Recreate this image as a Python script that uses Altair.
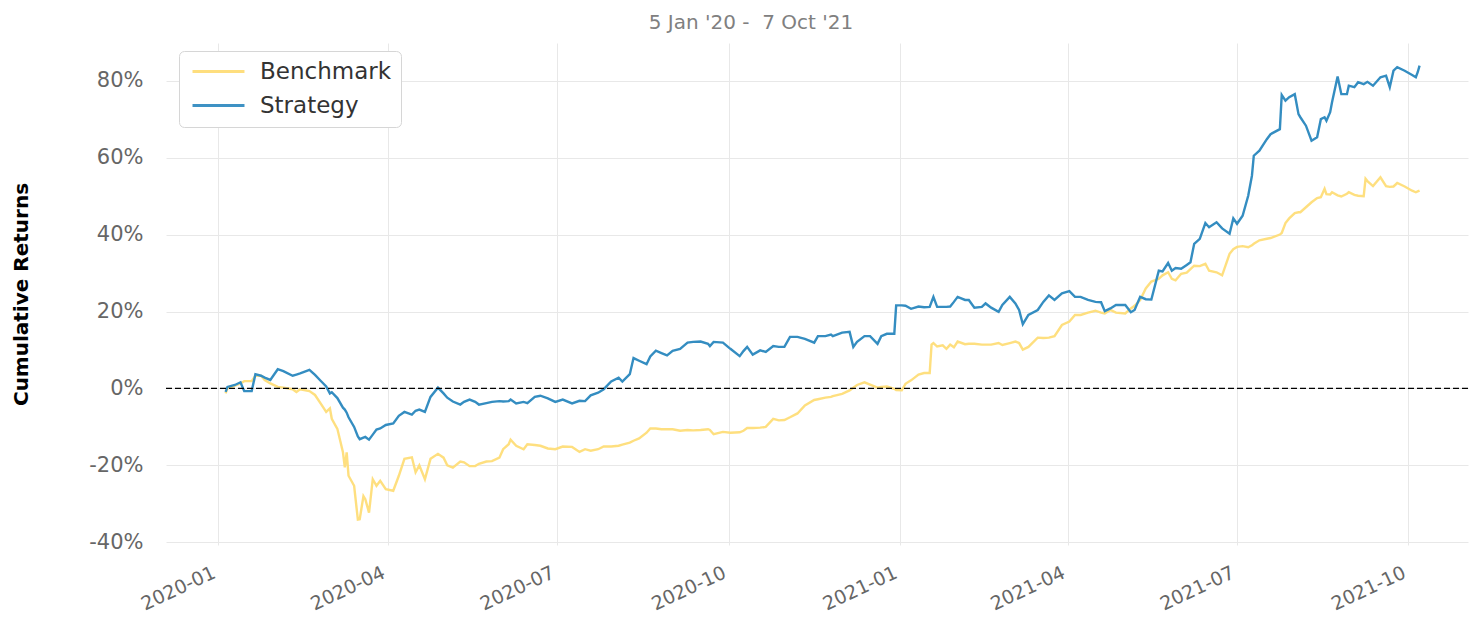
import altair as alt
import pandas as pd

# ---------------- data (cumulative return, %) ----------------
dates = [
    "2020-01-05", "2020-01-06", "2020-01-10", "2020-01-13", "2020-01-15", "2020-01-19",
    "2020-01-21", "2020-01-24", "2020-01-26", "2020-01-29", "2020-02-02", "2020-02-05",
    "2020-02-10", "2020-02-12", "2020-02-14", "2020-02-19", "2020-02-22", "2020-02-25",
    "2020-02-28", "2020-03-01", "2020-03-02", "2020-03-05", "2020-03-08", "2020-03-09",
    "2020-03-10", "2020-03-11", "2020-03-14", "2020-03-16", "2020-03-17", "2020-03-19",
    "2020-03-20", "2020-03-22", "2020-03-24", "2020-03-26", "2020-03-28", "2020-03-31",
    "2020-04-04", "2020-04-07", "2020-04-10", "2020-04-14", "2020-04-16", "2020-04-18",
    "2020-04-21", "2020-04-24", "2020-04-28",
    "2020-05-01", "2020-05-03", "2020-05-06", "2020-05-10", "2020-05-12", "2020-05-15",
    "2020-05-18", "2020-05-20", "2020-05-24", "2020-05-27", "2020-05-31", "2020-06-02",
    "2020-06-05", "2020-06-06", "2020-06-09", "2020-06-13", "2020-06-15", "2020-06-19",
    "2020-06-22", "2020-06-26", "2020-06-30", "2020-07-04", "2020-07-09", "2020-07-13",
    "2020-07-16", "2020-07-19", "2020-07-23", "2020-07-26", "2020-07-30", "2020-08-03",
    "2020-08-05", "2020-08-09", "2020-08-11", "2020-08-14", "2020-08-18", "2020-08-20",
    "2020-08-23", "2020-08-26", "2020-08-29", "2020-09-01", "2020-09-05",
    "2020-09-09", "2020-09-12", "2020-09-16", "2020-09-20", "2020-09-21", "2020-09-23",
    "2020-09-28", "2020-10-02", "2020-10-07", "2020-10-09", "2020-10-11", "2020-10-14",
    "2020-10-18", "2020-10-21", "2020-10-25", "2020-10-28", "2020-10-31", "2020-11-03",
    "2020-11-07", "2020-11-11", "2020-11-16", "2020-11-18", "2020-11-22", "2020-11-25",
    "2020-11-26", "2020-12-01", "2020-12-05", "2020-12-07", "2020-12-09", "2020-12-13",
    "2020-12-16", "2020-12-20", "2020-12-22", "2020-12-25", "2020-12-29", "2020-12-30",
    "2021-01-02",
    "2021-01-04", "2021-01-07", "2021-01-11", "2021-01-14", "2021-01-17", "2021-01-18",
    "2021-01-19", "2021-01-21", "2021-01-24", "2021-01-26", "2021-01-28", "2021-01-30",
    "2021-02-01", "2021-02-05", "2021-02-07", "2021-02-10", "2021-02-14", "2021-02-16",
    "2021-02-19", "2021-02-23", "2021-02-25", "2021-03-01", "2021-03-04", "2021-03-06",
    "2021-03-08", "2021-03-11", "2021-03-16", "2021-03-19", "2021-03-22", "2021-03-25",
    "2021-03-29", "2021-04-02", "2021-04-05", "2021-04-08", "2021-04-12", "2021-04-16",
    "2021-04-19", "2021-04-21", "2021-04-24", "2021-04-27", "2021-05-02", "2021-05-05",
    "2021-05-07", "2021-05-10", "2021-05-13",
    "2021-05-16", "2021-05-20", "2021-05-22", "2021-05-25", "2021-05-27", "2021-05-29",
    "2021-06-01", "2021-06-04", "2021-06-06", "2021-06-08", "2021-06-11", "2021-06-14",
    "2021-06-16", "2021-06-20", "2021-06-23", "2021-06-27", "2021-06-29", "2021-07-01",
    "2021-07-04", "2021-07-07", "2021-07-09", "2021-07-10", "2021-07-13", "2021-07-17",
    "2021-07-19", "2021-07-24", "2021-07-25", "2021-07-27", "2021-07-29", "2021-08-01",
    "2021-08-03", "2021-08-04", "2021-08-07", "2021-08-10", "2021-08-13", "2021-08-15",
    "2021-08-17", "2021-08-18", "2021-08-20", "2021-08-21", "2021-08-24", "2021-08-26",
    "2021-08-29", "2021-08-30", "2021-09-02", "2021-09-04", "2021-09-07", "2021-09-08",
    "2021-09-09", "2021-09-12", "2021-09-16", "2021-09-19", "2021-09-21", "2021-09-23",
    "2021-09-25", "2021-09-29", "2021-10-03", "2021-10-05", "2021-10-06", "2021-10-07",
]

benchmark = [
    -1.3, 0.0, 0.7, 1.3, 1.9, 1.9,
    3.3, 3.3, 2.2, 1.3, 0.4, 0.2,
    -0.2, -0.9, -0.2, -0.7, -1.7, -3.9,
    -6.1, -5.2, -7.9, -10.5, -16.6, -20.5,
    -16.6, -22.7, -25.3, -34.1, -34.0, -28.0,
    -28.8, -32.3, -23.6, -25.3, -24.0, -26.2,
    -26.6, -22.7, -18.3, -17.9, -21.8, -20.0,
    -23.6, -18.3, -17.0,
    -18.0, -20.0, -20.6, -19.0, -19.2, -20.2,
    -20.2, -19.6, -19.0, -18.9, -18.0, -15.8,
    -14.5, -13.3, -14.9, -15.8, -14.5, -14.7,
    -14.9, -15.6, -15.8, -15.1, -15.2, -16.5,
    -15.8, -16.2, -15.8, -15.1, -15.1, -14.9,
    -14.6, -14.1, -13.6, -13.0, -11.5, -10.4,
    -10.4, -10.6, -10.6, -10.6, -11.0,
    -10.8, -10.9, -10.8, -10.6, -10.8, -11.9,
    -11.3, -11.5, -11.4, -11.0, -10.3, -10.3,
    -10.2, -10.0, -7.9, -8.3, -8.2, -7.5,
    -6.5, -4.4, -3.0, -2.8, -2.4, -2.2,
    -2.0, -1.4, -0.5, 0.2, 0.9, 1.6,
    1.0, 0.2, 0.4, 0.5, -0.1, -0.4,
    -0.5,
    1.2, 2.1, 3.6, 4.0, 4.0, 11.4,
    11.8, 10.9, 11.2, 10.3, 11.4, 10.7,
    12.2, 11.5, 11.6, 11.6, 11.4, 11.4,
    11.4, 11.8, 11.3, 11.8, 12.2, 11.8,
    10.1, 10.8, 13.2, 13.1, 13.2, 13.6,
    16.5, 17.4, 19.1, 19.1, 19.7, 20.2,
    19.7, 19.5, 20.4, 19.7, 19.5, 20.8,
    21.5, 23.0, 26.0,
    27.8, 28.5, 29.4, 30.2, 28.5, 28.1,
    29.8, 30.1, 31.0, 31.9, 31.8, 32.4,
    30.6, 30.2, 29.4, 35.0, 36.2, 36.8,
    37.0, 36.7, 37.2, 37.6, 38.5, 38.9,
    39.1, 40.0, 40.4, 43.0, 44.2, 45.6,
    45.8, 45.8, 47.1, 48.4, 49.5, 49.7,
    51.9, 50.5, 50.4, 51.0, 50.2, 49.9,
    50.6, 51.0, 50.3, 50.1, 50.0, 54.5,
    53.9, 52.6, 54.9, 52.6, 52.4, 52.5,
    53.4, 52.5, 51.4, 51.0, 51.2, 51.4,
]

strategy = [
    -0.9, 0.4, 0.9, 1.6, -0.7, -0.7,
    3.7, 3.3, 2.8, 2.2, 5.0, 4.5,
    3.3, 3.6, 3.9, 4.8, 3.5, 2.0,
    0.5, -1.3, -1.0, -2.5, -5.0, -5.5,
    -6.3, -7.5, -10.0, -12.5, -13.2, -12.8,
    -12.6, -13.3, -12.0, -10.7, -10.4, -9.5,
    -9.1, -7.1, -6.1, -6.8, -5.8, -5.5,
    -6.1, -2.2, 0.2,
    -1.3, -2.4, -3.4, -4.2, -3.5, -2.9,
    -3.5, -4.2, -3.8, -3.5, -3.3, -3.4,
    -3.3, -2.9, -3.9, -3.5, -3.8, -2.2,
    -1.9, -2.6, -3.5, -2.9, -3.9, -3.2,
    -3.3, -1.8, -1.1, -0.2, 1.8, 2.8,
    1.8, 3.7, 7.9, 7.2, 6.3, 8.3,
    9.8, 9.2, 8.6, 9.8, 10.3,
    11.9, 12.1, 12.2, 11.6, 11.0, 12.1,
    11.9, 10.3, 8.4, 9.7, 10.8, 8.8,
    9.9, 9.5, 11.0, 10.8, 10.8, 13.4,
    13.4, 12.9, 11.9, 13.6, 13.6, 14.0,
    13.6, 14.5, 14.7, 10.8, 12.1, 13.6,
    13.6, 11.6, 13.6, 14.2, 14.2, 21.6,
    21.6,
    21.5, 20.7, 21.3, 21.1, 21.2, 22.5,
    23.8, 21.2, 21.2, 21.2, 21.3, 22.5,
    23.8, 23.0, 23.0, 21.0, 21.2, 22.1,
    21.0, 19.9, 21.7, 23.8, 22.1, 20.4,
    16.7, 19.1, 20.4, 22.5, 24.2, 23.0,
    24.7, 25.3, 23.8, 23.8, 23.0, 22.5,
    22.4, 20.1, 20.8, 21.7, 21.7, 19.8,
    20.4, 23.8, 23.2,
    23.1, 30.6, 30.4, 32.6, 30.6, 31.3,
    31.1, 32.1, 32.8, 37.6, 38.9, 43.0,
    41.9, 43.2, 41.6, 40.2, 44.2, 42.8,
    44.9, 50.1, 55.3, 60.5, 61.8, 64.8,
    66.1, 67.4, 76.3, 74.8, 75.7, 76.5,
    71.3, 70.5, 68.3, 64.4, 65.3, 70.0,
    70.5, 69.6, 71.8, 74.4, 81.1, 76.5,
    76.5, 78.7, 78.3, 79.6, 79.1, 79.4,
    79.7, 78.7, 80.9, 81.3, 78.3, 82.6,
    83.5, 82.6, 81.5, 80.9, 82.2, 83.9,
]

series_names = ["Benchmark", "Strategy"]
series_colors = ["#fedd78", "#348dc1"]
tick_dates = ["2020-01", "2020-04", "2020-07", "2020-10",
              "2021-01", "2021-04", "2021-07", "2021-10"]
y_ticks = [-40, -20, 0, 20, 40, 60, 80]
title_text = "5 Jan '20 -\u00a0 7 Oct '21"

# ---------------- build table ----------------
df = pd.DataFrame({"date": dates, "Benchmark": benchmark, "Strategy": strategy})
long = df.melt("date", var_name="series", value_name="ret")

FONT = "DejaVu Sans"

def dt(s, d=1):
    return alt.DateTime(year=int(s[:4]), month=int(s[5:7]), date=d, utc=True)

x_enc = alt.X(
    "date:T",
    scale=alt.Scale(type="utc", domain=[alt.DateTime(year=2019, month=12, date=4, utc=True),
                                        alt.DateTime(year=2021, month=11, date=2, utc=True)]),
    axis=alt.Axis(values=[dt(s) for s in tick_dates], format="%Y-%m", labelAngle=-25,
                  labelAlign="right", labelBaseline="top", labelPadding=18, labelOffset=-8,
                  labelFontSize=19, title=None),
)
y_enc = alt.Y(
    "ret:Q",
    scale=alt.Scale(domain=[-40.7, 89.8], nice=False, zero=False),
    axis=alt.Axis(values=y_ticks, labelExpr="datum.value + '%'", labelFontSize=21,
                  labelPadding=23, title="Cumulative Returns", titleFontSize=20,
                  titleFontWeight="bold", titleColor="#000000", titlePadding=57),
)
color_enc = alt.Color(
    "series:N",
    scale=alt.Scale(domain=series_names, range=series_colors),
    legend=alt.Legend(title=None, orient="none", legendX=13, legendY=8,
                      symbolType="M-5,0H5", symbolSize=108, symbolStrokeWidth=3,
                      symbolOffset=19, symbolFillColor="transparent",
                      labelFontSize=23, labelColor="#333333", labelOffset=30,
                      rowPadding=10, padding=9, strokeColor="#d6d6d6",
                      fillColor="#ffffff", cornerRadius=5),
)

base = alt.Chart(long)
bench = base.transform_filter(alt.datum.series == "Benchmark").mark_line(
    strokeWidth=2.4, opacity=0.95).encode(x=x_enc, y=y_enc, color=color_enc)
strat = base.transform_filter(alt.datum.series == "Strategy").mark_line(
    strokeWidth=2.4).encode(x=x_enc, y=y_enc, color=color_enc)
zero = alt.Chart(pd.DataFrame({"z": [0]})).mark_rule(
    color="#000000", strokeWidth=1.2, strokeDash=[6, 3]).encode(y="z:Q")

chart = alt.layer(bench, strat, zero).properties(
    width=1302, height=502,
    padding={"left": 3, "top": 5, "right": 0, "bottom": 0},
    title=alt.TitleParams(title_text, fontSize=20, color="#808080", font=FONT,
                          fontWeight="normal", anchor="middle", frame="group",
                          dx=-66, offset=10),
).configure(font=FONT).configure_view(stroke=None).configure_axis(
    grid=True, gridColor="#e8e8e8", gridWidth=1, domain=False, ticks=False,
    labelColor="#666666", labelFont=FONT, titleFont=FONT,
).configure_legend(labelFont=FONT)

chart.save("out.html", embed_options={"renderer": "svg", "actions": False})
